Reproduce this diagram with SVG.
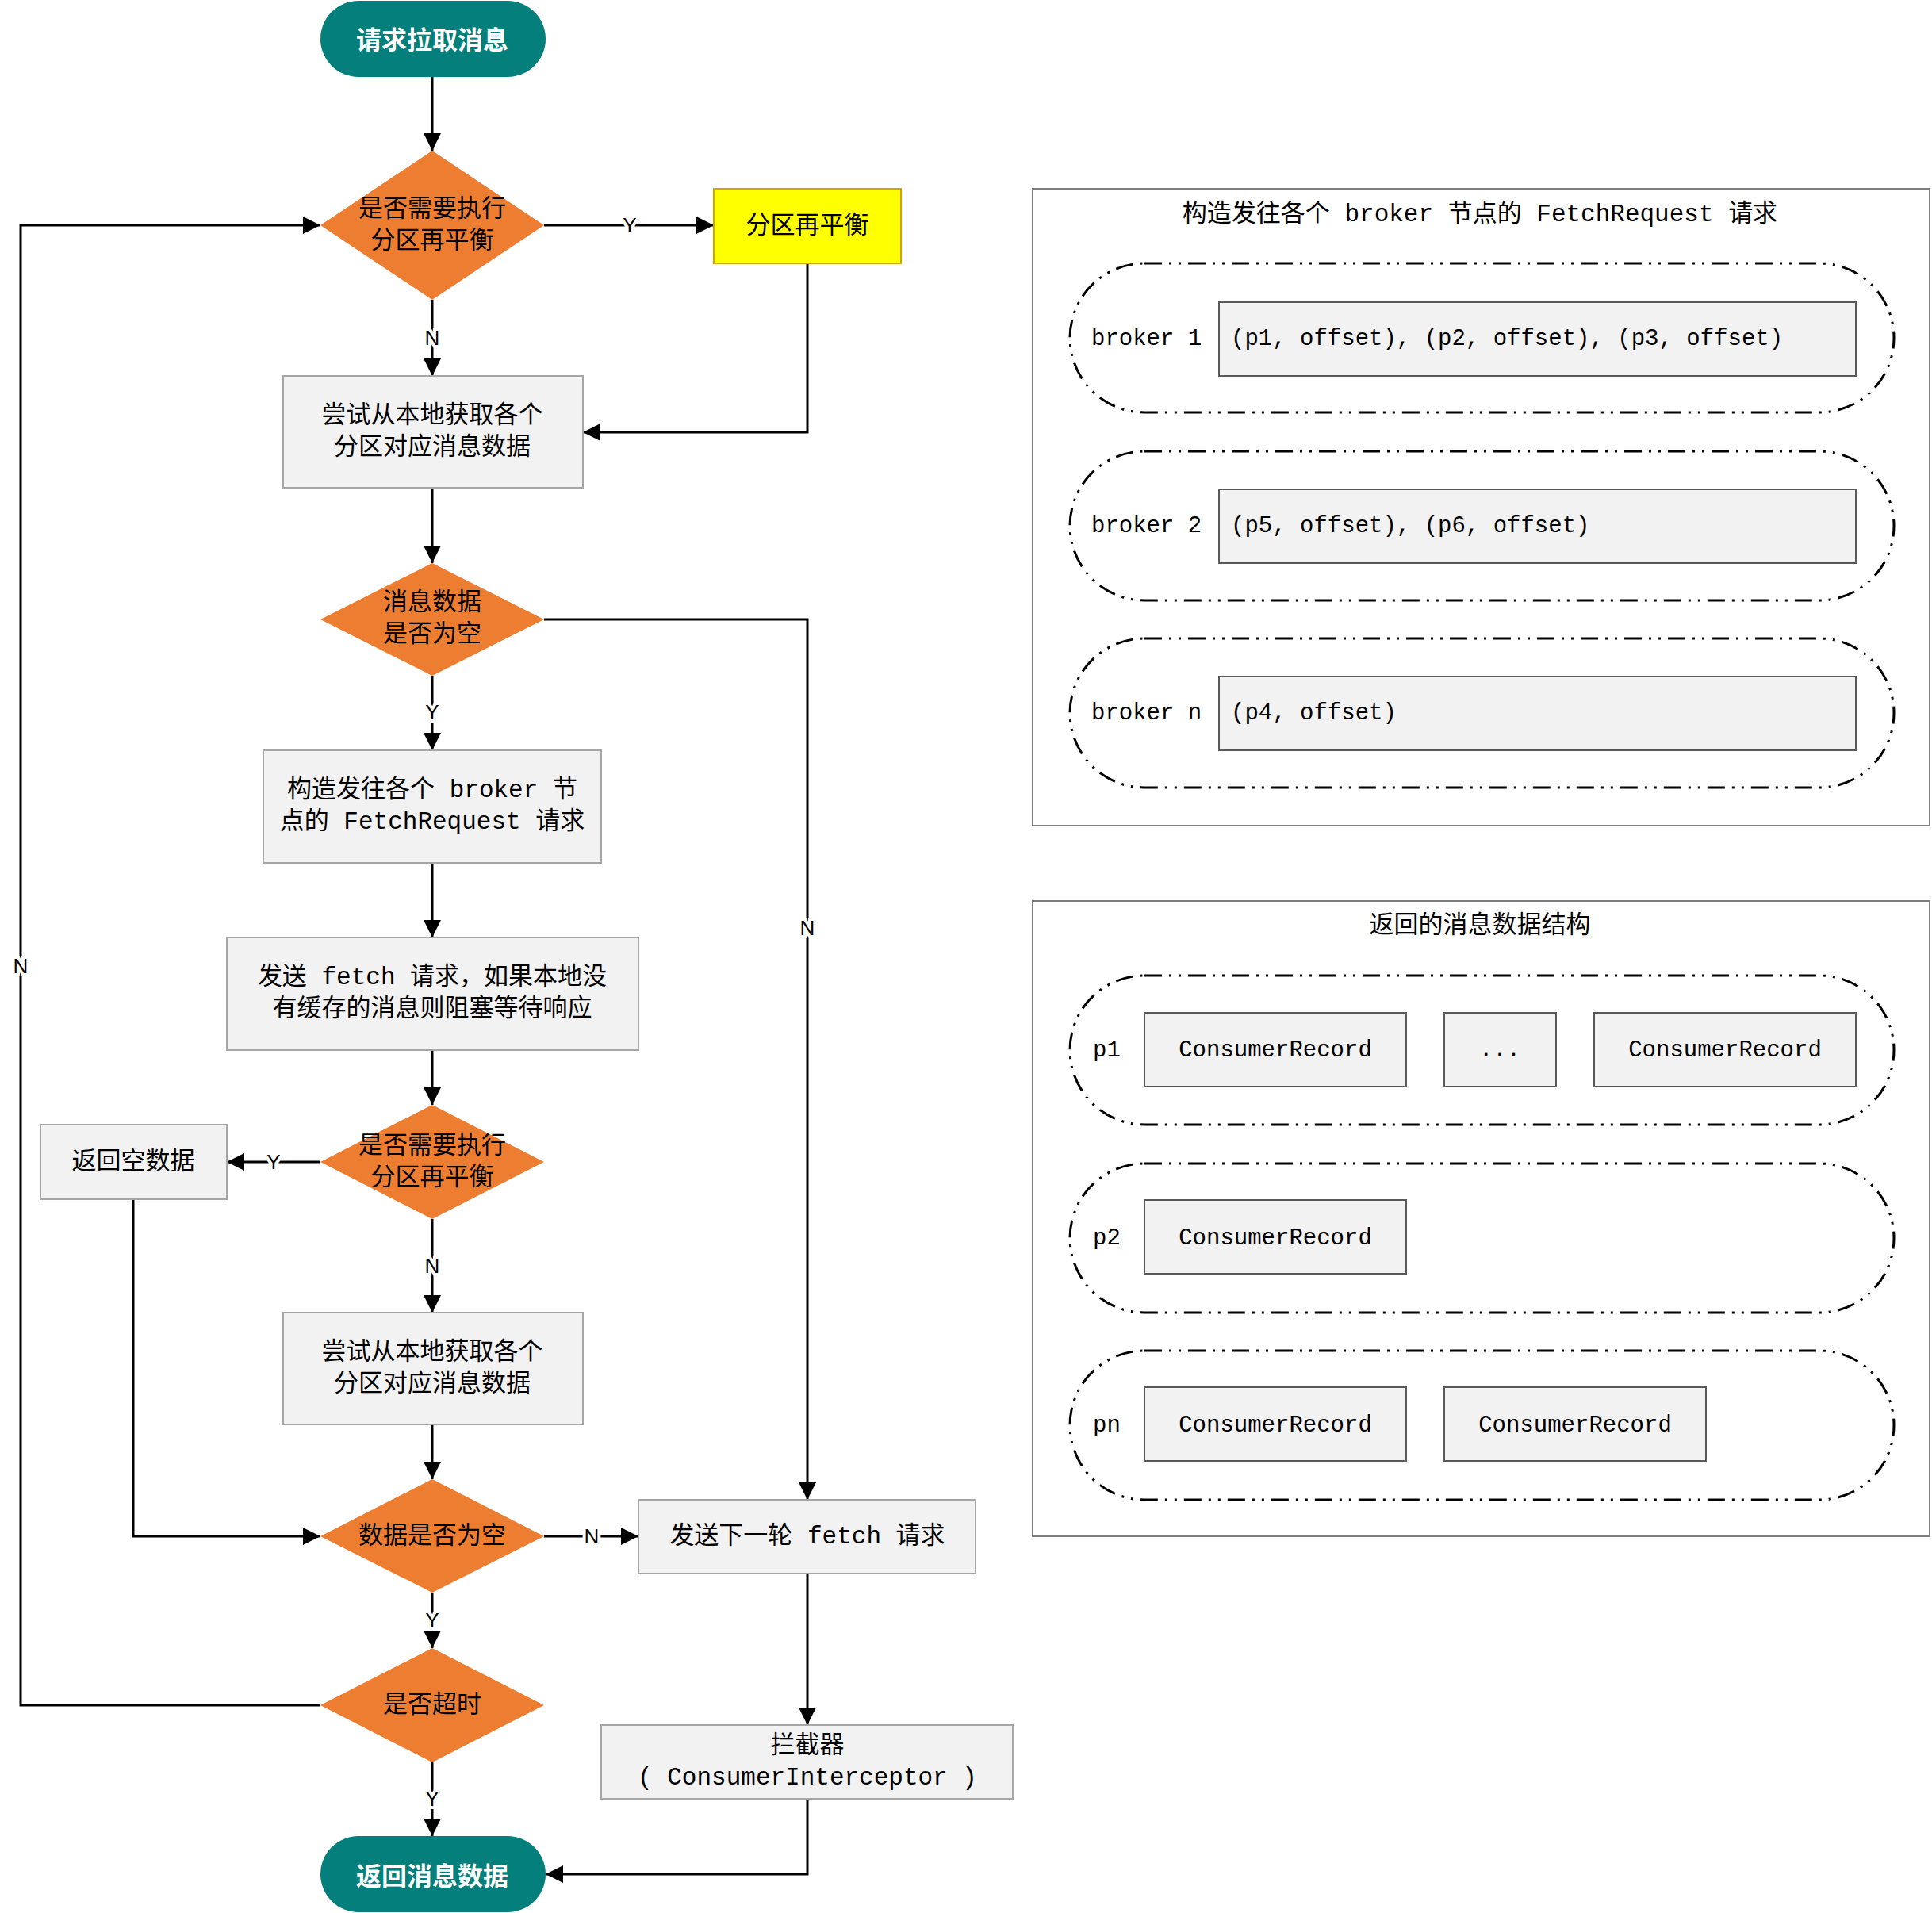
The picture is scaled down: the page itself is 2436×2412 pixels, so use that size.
<svg xmlns="http://www.w3.org/2000/svg" width="2436" height="2412" viewBox="0 0 2436 2412">
<style>
.term{fill:#047f7b}
.tt{fill:#fff;font-family:"Noto Sans CJK SC",sans-serif;font-size:32px;font-weight:bold;text-anchor:middle;dominant-baseline:central}
.dia{fill:#ed7d31}
.box{fill:#f2f2f2;stroke:#a6a6a6;stroke-width:2}
.t{fill:#000;font-family:"Liberation Mono","Noto Sans CJK SC",monospace;font-size:31px;text-anchor:middle;dominant-baseline:central}
.tl{fill:#000;font-family:"Liberation Mono","Noto Sans CJK SC",monospace;font-size:29px;dominant-baseline:central}
.c{fill:none;stroke:#000;stroke-width:3}
.lab{fill:#000;font-family:"Liberation Sans",sans-serif;font-size:26px;text-anchor:middle;dominant-baseline:central;paint-order:stroke;stroke:#fff;stroke-width:8}
.panel{fill:#fff;stroke:#7f7f7f;stroke-width:2}
.st{fill:none;stroke:#000;stroke-width:3;stroke-dasharray:22 9 3 9 3 9}
</style>
<defs><marker id="a" markerWidth="10" markerHeight="10" refX="9" refY="5" orient="auto" markerUnits="userSpaceOnUse" viewBox="0 0 10 10"><path d="M0,0 L10,5 L0,10 z"/></marker>
<marker id="ah" viewBox="0 0 10 10" refX="10" refY="5" markerWidth="22" markerHeight="22" markerUnits="userSpaceOnUse" orient="auto"><path d="M0,0 L10,5 L0,10 z" fill="#000"/></marker></defs>
<g id="connectors">
<path class="c" marker-end="url(#ah)" d="M545,96 V190"/>
<path class="c" marker-end="url(#ah)" d="M686,284 H900"/>
<path class="c" marker-end="url(#ah)" d="M1018,332 V545 H735"/>
<path class="c" marker-end="url(#ah)" d="M545,378 V474"/>
<path class="c" marker-end="url(#ah)" d="M545,615 V710"/>
<path class="c" marker-end="url(#ah)" d="M686,781 H1018 V1891"/>
<path class="c" marker-end="url(#ah)" d="M545,852 V946"/>
<path class="c" marker-end="url(#ah)" d="M545,1088 V1182"/>
<path class="c" marker-end="url(#ah)" d="M545,1324 V1393"/>
<path class="c" marker-end="url(#ah)" d="M404,1465 H286"/>
<path class="c" marker-end="url(#ah)" d="M545,1537 V1655"/>
<path class="c" marker-end="url(#ah)" d="M545,1796 V1865"/>
<path class="c" marker-end="url(#ah)" d="M168,1512 V1937 H404"/>
<path class="c" marker-end="url(#ah)" d="M686,1937 H805"/>
<path class="c" marker-end="url(#ah)" d="M545,2008 V2078"/>
<path class="c" marker-end="url(#ah)" d="M404,2150 H26 V284 H404"/>
<path class="c" marker-end="url(#ah)" d="M545,2222 V2315"/>
<path class="c" marker-end="url(#ah)" d="M1018,1984 V2175"/>
<path class="c" marker-end="url(#ah)" d="M1018,2268 V2363 H688"/>
<text class="lab" x="794" y="284">Y</text>
<text class="lab" x="545" y="426">N</text>
<text class="lab" x="1018" y="1170">N</text>
<text class="lab" x="545" y="898">Y</text>
<text class="lab" x="345" y="1465">Y</text>
<text class="lab" x="545" y="1596">N</text>
<text class="lab" x="746" y="1937">N</text>
<text class="lab" x="545" y="2043">Y</text>
<text class="lab" x="26" y="1218">N</text>
<text class="lab" x="545" y="2268">Y</text>
</g>
<g id="start"><rect class="term" x="404" y="1" width="284" height="96" rx="48"/><text class="tt" x="545" y="48">请求拉取消息</text></g>
<g id="d1"><polygon class="dia" points="545,190 686,284 545,378 404,284"/><text class="t" x="545" y="264">是否需要执行</text><text class="t" x="545" y="304">分区再平衡</text></g>
<g id="rebalance"><rect x="900" y="238" width="236" height="94" fill="#ffff00" stroke="#d9a000" stroke-width="2"/><text class="t" x="1018" y="285">分区再平衡</text></g>
<g id="b1"><rect class="box" x="357" y="474" width="378" height="141"/><text class="t" x="545" y="524">尝试从本地获取各个</text><text class="t" x="545" y="564">分区对应消息数据</text></g>
<g id="d2"><polygon class="dia" points="545,710 686,781 545,852 404,781"/><text class="t" x="545" y="760">消息数据</text><text class="t" x="545" y="800">是否为空</text></g>
<g id="b2"><rect class="box" x="332" y="946" width="426" height="142"/><text class="t" x="545" y="996">构造发往各个 broker 节</text><text class="t" x="545" y="1036">点的 FetchRequest 请求</text></g>
<g id="b3"><rect class="box" x="286" y="1182" width="519" height="142"/><text class="t" x="545" y="1232">发送 fetch 请求，如果本地没</text><text class="t" x="545" y="1272">有缓存的消息则阻塞等待响应</text></g>
<g id="d3"><polygon class="dia" points="545,1393 686,1465 545,1537 404,1465"/><text class="t" x="545" y="1445">是否需要执行</text><text class="t" x="545" y="1485">分区再平衡</text></g>
<g id="empty"><rect class="box" x="51" y="1418" width="235" height="94"/><text class="t" x="168" y="1465">返回空数据</text></g>
<g id="b4"><rect class="box" x="357" y="1655" width="378" height="141"/><text class="t" x="545" y="1705">尝试从本地获取各个</text><text class="t" x="545" y="1745">分区对应消息数据</text></g>
<g id="d4"><polygon class="dia" points="545,1865 686,1937 545,2008 404,1937"/><text class="t" x="545" y="1937">数据是否为空</text></g>
<g id="d5"><polygon class="dia" points="545,2078 686,2150 545,2222 404,2150"/><text class="t" x="545" y="2150">是否超时</text></g>
<g id="end"><rect class="term" x="404" y="2315" width="284" height="96" rx="48"/><text class="tt" x="545" y="2363">返回消息数据</text></g>
<g id="next"><rect class="box" x="805" y="1891" width="425" height="93"/><text class="t" x="1018" y="1937">发送下一轮 fetch 请求</text></g>
<g id="interceptor"><rect class="box" x="758" y="2175" width="519" height="93"/><text class="t" x="1018" y="2201">拦截器</text><text class="t" x="1018" y="2241">( ConsumerInterceptor )</text></g>
<g id="panel1">
<rect class="panel" x="1302" y="238" width="1131" height="803"/>
<text class="t" x="1866" y="270">构造发往各个 broker 节点的 FetchRequest 请求</text>
<rect class="st" x="1349" y="332" width="1039" height="188" rx="94"/>
<rect class="st" x="1349" y="569" width="1039" height="188" rx="94"/>
<rect class="st" x="1349" y="805" width="1039" height="188" rx="94"/>
<text class="tl" x="1376" y="427">broker 1</text>
<text class="tl" x="1376" y="663">broker 2</text>
<text class="tl" x="1376" y="899">broker n</text>
<rect x="1537" y="381" width="803" height="93" fill="#f2f2f2" stroke="#595959" stroke-width="2"/>
<rect x="1537" y="617" width="803" height="93" fill="#f2f2f2" stroke="#595959" stroke-width="2"/>
<rect x="1537" y="853" width="803" height="93" fill="#f2f2f2" stroke="#595959" stroke-width="2"/>
<text class="tl" x="1552" y="427">(p1, offset), (p2, offset), (p3, offset)</text>
<text class="tl" x="1552" y="663">(p5, offset), (p6, offset)</text>
<text class="tl" x="1552" y="899">(p4, offset)</text>
</g>
<g id="panel2">
<rect class="panel" x="1302" y="1136" width="1131" height="801"/>
<text class="t" x="1866" y="1167">返回的消息数据结构</text>
<rect class="st" x="1349" y="1230" width="1039" height="188" rx="94"/>
<rect class="st" x="1349" y="1467" width="1039" height="188" rx="94"/>
<rect class="st" x="1349" y="1703" width="1039" height="188" rx="94"/>
<text class="tl" x="1378" y="1324">p1</text>
<text class="tl" x="1378" y="1561">p2</text>
<text class="tl" x="1378" y="1797">pn</text>
<g fill="#f2f2f2" stroke="#595959" stroke-width="2">
<rect x="1443" y="1277" width="330" height="93"/><rect x="1821" y="1277" width="141" height="93"/><rect x="2010" y="1277" width="330" height="93"/>
<rect x="1443" y="1513" width="330" height="93"/>
<rect x="1443" y="1749" width="330" height="93"/><rect x="1821" y="1749" width="330" height="93"/>
</g>
<text class="tl" x="1608" y="1324" text-anchor="middle">ConsumerRecord</text>
<text class="tl" x="1891" y="1324" text-anchor="middle">...</text>
<text class="tl" x="2175" y="1324" text-anchor="middle">ConsumerRecord</text>
<text class="tl" x="1608" y="1561" text-anchor="middle">ConsumerRecord</text>
<text class="tl" x="1608" y="1797" text-anchor="middle">ConsumerRecord</text>
<text class="tl" x="1986" y="1797" text-anchor="middle">ConsumerRecord</text>
</g>
</svg>
